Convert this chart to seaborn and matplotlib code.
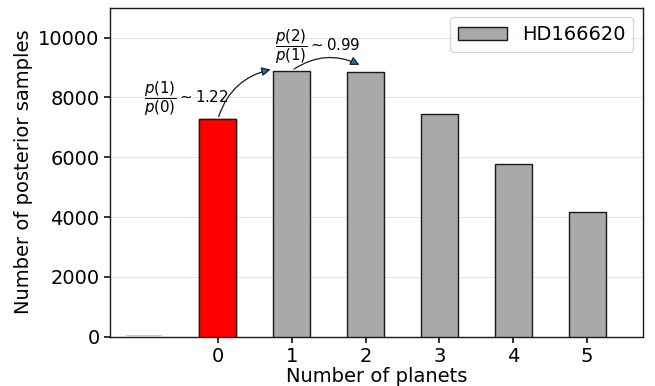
import matplotlib
matplotlib.use("Agg")
import matplotlib.pyplot as plt
import seaborn as sns
import pandas as pd

planets = [-1, 0, 1, 2, 3, 4, 5]
samples = [40, 7270, 8896, 8863, 7458, 5786, 4181]
tick_labels = ["0", "1", "2", "3", "4", "5"]
ratios = [1.22, 0.99]
label = "HD166620"

sns.set_theme(style="white")
plt.rcParams['font.family'] = ['DejaVu Sans']
for k in ["text.color", "axes.labelcolor", "xtick.color", "ytick.color"]:
    plt.rcParams[k] = "black"

fig, ax = plt.subplots(figsize=(6.55, 3.86), dpi=100)
df = pd.DataFrame({"planets": planets, "samples": samples})
main = df[df.planets >= 0]

ax.bar(main.planets, main.samples, width=0.5, color="darkgray", edgecolor="k", label=label, zorder=3)
ax.bar([0], [samples[1]], width=0.5, color="red", edgecolor="k", zorder=4)
ax.bar([planets[0]], [samples[0]], width=0.5, color="#c8c8c8", edgecolor="none", zorder=3)

ax.set_xlim(-1.46, 5.76)
ax.set_ylim(0, 11000)
ax.set_xticks(range(6))
ax.set_xticklabels(tick_labels)
ax.yaxis.grid(True, color="#e6e6e6", lw=0.8, zorder=0)
for s in ax.spines.values():
    s.set_color("k")
    s.set_linewidth(1)
ax.tick_params(axis="both", labelsize=14, length=4, color="k", bottom=True, left=True)
ax.set_xlabel("Number of planets", fontsize=14, labelpad=1)
ax.set_ylabel("Number of posterior samples", fontsize=14)

ap = dict(arrowstyle="-|>", connectionstyle="arc3,rad=-0.3",
          fc="#1f77b4", ec="k", lw=0.9, mutation_scale=13)
ax.annotate("", xy=(0.75, 8950), xytext=(0.0, samples[1]), arrowprops=ap, zorder=5)
ax.annotate("", xy=(1.95, 9050), xytext=(1.0, samples[2]), arrowprops=ap, zorder=5)
ax.text(-1.0, 7950, r"$\dfrac{p(1)}{p(0)} \sim %.2f$" % ratios[0], fontsize=10.8, va="center")
ax.text(0.78, 9700, r"$\dfrac{p(2)}{p(1)} \sim %.2f$" % ratios[1], fontsize=10.8, va="center")

ax.legend(loc="upper right", fontsize=14, frameon=True, handlelength=2.5)

fig.subplots_adjust(left=0.168, right=0.982, top=0.98, bottom=0.128)
fig.savefig("out.png", dpi=100)
